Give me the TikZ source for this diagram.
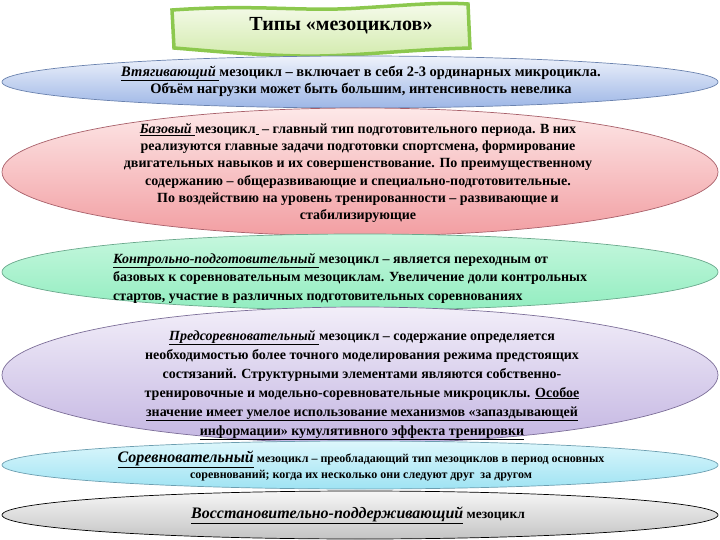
\documentclass[tikz,border=0pt]{standalone}
\usepackage{fontspec}
\setmainfont{Liberation Serif}
\usetikzlibrary{shapes.geometric}
\definecolor{tgreen}{HTML}{8CC84E}
\definecolor{tfillA}{HTML}{F6FBEC}
\definecolor{tfillB}{HTML}{D3EBAE}
\definecolor{blueA}{HTML}{EEF2FB}
\definecolor{blueB}{HTML}{9DB6E6}
\definecolor{blueE}{HTML}{6A82AE}
\definecolor{pinkA}{HTML}{FDE8E8}
\definecolor{pinkB}{HTML}{F29EA2}
\definecolor{pinkE}{HTML}{A8606A}
\definecolor{mintA}{HTML}{C6F7DE}
\definecolor{mintB}{HTML}{92EDC0}
\definecolor{mintE}{HTML}{6AA88C}
\definecolor{lavA}{HTML}{F2EEF9}
\definecolor{lavB}{HTML}{C4B6E2}
\definecolor{lavE}{HTML}{7C6E98}
\definecolor{cyanA}{HTML}{DDF7FC}
\definecolor{cyanB}{HTML}{9FE3F3}
\definecolor{cyanE}{HTML}{6C9EB0}
\definecolor{grayA}{HTML}{F6F6F6}
\definecolor{grayB}{HTML}{C4C4C4}
\newcommand{\kw}[1]{\underline{\textit{#1}}}
\tikzset{
  band/.style={ellipse, line width=0.7pt, minimum width=716pt, inner sep=0pt},
  txt/.style={inner sep=0pt, align=center, text=black},
}
\begin{document}
\begin{tikzpicture}[x=1pt,y=-1pt]
\useasboundingbox (0,0) rectangle (720,540);
% title box
\draw[tgreen, line width=3.5pt, top color=tfillA, bottom color=tfillB]
  (172,10) .. controls (260,4) and (300,12) .. (360,8)
  .. controls (410,5) and (440,2) .. (468,4)
  -- (470,48)
  .. controls (400,50) and (350,57) .. (300,56)
  .. controls (250,55) and (200,50) .. (174,48) -- cycle;
\node[txt, font=\bfseries\fontsize{20}{22}\selectfont] (title) at (341,26) {Типы «мезоциклов»};
% bands
\node[band, draw=blueE, top color=blueA, bottom color=blueB, minimum height=52pt] (b1) at (360,82) {};
\node[band, draw=pinkE, top color=pinkA, bottom color=pinkB, minimum height=128pt] (b2) at (360,172) {};
\node[band, draw=mintE, top color=mintA, bottom color=mintB, minimum height=76pt] (b3) at (360,272) {};
\node[band, draw=lavE, top color=lavA, bottom color=lavB, minimum height=136pt] (b4) at (360,375) {};
\node[band, draw=cyanE, top color=cyanA, bottom color=cyanB, minimum height=48pt] (b5) at (360,465) {};
\node[band, draw=black, top color=grayA, bottom color=grayB, minimum height=48pt] (b6) at (360,515) {};
% texts
\node[txt, font=\bfseries\fontsize{14.5}{17}\selectfont] (t1) at (361,81) {\kw{Втягивающий }мезоцикл – включает в себя 2-3 ординарных микроцикла.\\
Объём нагрузки может быть большим, интенсивность невелика};
\node[txt, font=\bfseries\fontsize{14}{17.3}\selectfont] (t2) at (358,173) {\kw{Базовый }мезоцикл\underline{\hspace{3pt}} – главный тип подготовительного периода. В них\\
реализуются главные задачи подготовки спортсмена, формирование\\
двигательных навыков и их совершенствование. По преимущественному\\
содержанию – общеразвивающие и специально-подготовительные.\\
По воздействию на уровень тренированности – развивающие и\\
стабилизирующие};
\node[txt, align=left, anchor=west, font=\bfseries\fontsize{14}{18.5}\selectfont] (t3) at (113,278) {\kw{Контрольно-подготовительный }мезоцикл – является переходным от\\
базовых к соревновательным мезоциклам. Увеличение доли контрольных\\
стартов, участие в различных подготовительных соревнованиях};
\node[txt, font=\bfseries\fontsize{14}{19}\selectfont] (t4) at (362,385) {\kw{Предсоревновательный }мезоцикл – содержание определяется\\
необходимостью более точного моделирования режима предстоящих\\
состязаний. Структурными элементами являются собственно-\\
тренировочные и модельно-соревновательные микроциклы. \underline{Особое}\\
\underline{значение имеет умелое использование механизмов «запаздывающей}\\
\underline{информации» кумулятивного эффекта тренировки}};
\node[txt, font=\bfseries\fontsize{12}{16}\selectfont] (t5) at (361,466) {{\fontsize{16}{16}\selectfont\kw{Соревновательный}} мезоцикл – преобладающий тип мезоциклов в период основных\\
соревнований; когда их несколько они следуют друг \ за другом};
\node[txt, font=\bfseries\fontsize{13.5}{14}\selectfont] (t6) at (358,515) {{\fontsize{16}{16}\selectfont\kw{Восстановительно-поддерживающий}} мезоцикл};
\end{tikzpicture}
\end{document}
